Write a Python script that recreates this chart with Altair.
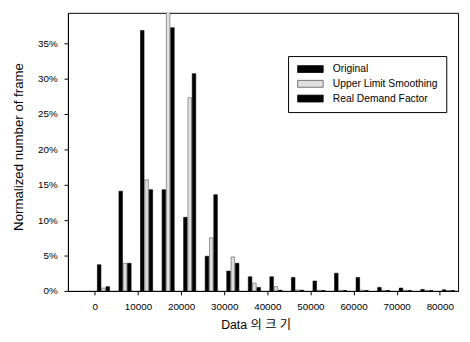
import altair as alt
import pandas as pd

bin_starts = [1000, 6000, 11000, 16000, 21000, 26000, 31000, 36000, 41000,
              46000, 51000, 56000, 61000, 66000, 71000, 76000, 81000]
series = ["Original", "Upper Limit Smoothing", "Real Demand Factor"]
original = [3.7, 14.1, 36.8, 14.3, 10.4, 4.9, 2.8, 2.0, 2.0,
            1.9, 1.4, 2.5, 1.9, 0.5, 0.4, 0.2, 0.15]
upper = [0.4, 3.9, 15.7, 40.0, 27.3, 7.5, 4.8, 1.1, 0.6,
         0.15, 0.1, 0.1, 0.1, 0.1, 0.1, 0.05, 0.05]
real = [0.6, 3.9, 14.3, 37.2, 30.7, 13.6, 3.9, 0.5, 0.1,
        0.1, 0.05, 0.05, 0.05, 0.05, 0.05, 0.05, 0.05]
bin_step = 1000  # each series sits one 1000-wide sub-bin to the right
x_ticks = [0, 10000, 20000, 30000, 40000, 50000, 60000, 70000, 80000]
y_ticks = [0, 5, 10, 15, 20, 25, 30, 35]

rows = []
for i, (name, vals) in enumerate(zip(series, [original, upper, real])):
    for b, v in zip(bin_starts, vals):
        rows.append({"size": b + i * bin_step, "pct": v, "series": name})
df = pd.DataFrame(rows)

FONT = 'Liberation Sans, Arial, "Noto Sans CJK KR"'

chart = alt.Chart(df).mark_bar(size=3.6, clip=True, strokeWidth=0.6).encode(
    x=alt.X("size:Q",
            scale=alt.Scale(domain=[-5100, 83100], nice=False, zero=False),
            axis=alt.Axis(values=x_ticks, format="d", title="Data 의  크 기",
                          grid=False,
                          labelFontSize=10, tickSize=4, labelPadding=7,
                          titleFontSize=12.5, titleFontWeight="normal",
                          titleX=191, titleY=34, titleBaseline="middle",
                          titleAlign="center")),
    y=alt.Y("pct:Q",
            scale=alt.Scale(domain=[0, 39.3], nice=False),
            axis=alt.Axis(values=y_ticks, labelExpr="datum.value + '%'",
                          title="Normalized number of frame", grid=False,
                          labelFontSize=10, tickSize=4, labelPadding=7,
                          titleFontSize=13.5, titleFontWeight="normal",
                          titleX=-50, titleY=136, titleBaseline="middle",
                          titleAlign="center", titleAngle=270)),
    color=alt.Color("series:N",
                    scale=alt.Scale(domain=series,
                                    range=["#000000", "#e0e0e0", "#000000"]),
                    legend=alt.Legend(title=None, orient="none",
                                      legendX=224, legendY=44,
                                      strokeColor="black", padding=8,
                                      fillColor="white",
                                      symbolType="M-1,-1L6.43,-1L6.43,1L-1,1Z",
                                      symbolSize=49, symbolStrokeWidth=0.8,
                                      symbolStrokeColor="#333333",
                                      labelOffset=27, labelFontSize=10.5,
                                      labelColor="black", rowPadding=4,
                                      labelExpr="datum.label + '\u00a0\u00a0\u00a0\u00a0\u00a0\u00a0\u00a0'")),
    stroke=alt.Stroke("series:N",
                      scale=alt.Scale(domain=series,
                                      range=["#000000", "#555555", "#000000"]),
                      legend=None),
).properties(
    width=397, height=283,
    padding={"left": 61, "top": 2, "right": 4, "bottom": 45},
    autosize=alt.AutoSizeParams(type="none"),
).configure(font=FONT).configure_view(
    stroke="black", strokeWidth=1
).configure_axis(
    domainColor="black", tickColor="black", labelColor="black",
    titleColor="black", labelFont=FONT, titleFont=FONT
).configure_legend(labelFont=FONT)

chart.save("out.html", embed_options={"renderer": "svg", "actions": False})
